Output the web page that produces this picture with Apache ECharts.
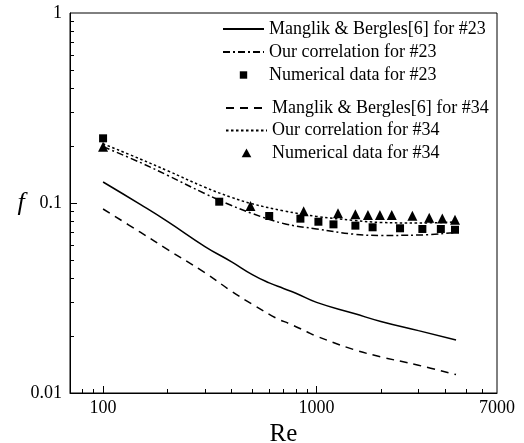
<!DOCTYPE html>
<html><head><meta charset="utf-8">
<script src="https://cdn.jsdelivr.net/npm/echarts@6/dist/echarts.min.js"></script>
<style>html,body{margin:0;padding:0;background:#fff}#c{width:524px;height:443px}</style>
</head><body><div id="c"></div>
<script>
// Manglik & Bergles[6] for #23 (solid)
const reM23 = [100,150,200,300,400,500,600,700,800,1000,1500,2000,3000,4500];
const fM23  = [0.129,0.098,0.080,0.059,0.049,0.042,0.038,0.0355,0.0335,0.030,0.0262,0.0238,0.0213,0.019];
// Our correlation for #23 (dash-dot)
const reC23 = [100,150,200,300,400,500,700,1000,1500,2000,3000,4500];
const fC23  = [0.198,0.163,0.140,0.112,0.097,0.088,0.078,0.073,0.0685,0.0675,0.0678,0.070];
// Numerical data for #23 (squares)
const reN23 = [100,350,600,840,1020,1200,1520,1830,2460,3130,3820,4450];
const fN23  = [0.219,0.1016,0.0854,0.0827,0.0797,0.0772,0.076,0.0745,0.0736,0.073,0.073,0.0723];
// Manglik & Bergles[6] for #34 (dashed)
const reM34 = [100,150,200,300,400,500,650,750,900,1000,1500,2000,3000,4500];
const fM34  = [0.093,0.070,0.057,0.043,0.0343,0.0293,0.0247,0.0231,0.021,0.0199,0.0169,0.0155,0.0140,0.0125];
// Our correlation for #34 (dotted)
const reC34 = [100,150,200,300,400,500,700,1000,1500,2000,3000,4500];
const fC34  = [0.205,0.170,0.148,0.121,0.107,0.099,0.091,0.085,0.081,0.079,0.0785,0.0795];
// Numerical data for #34 (triangles)
const reN34 = [100,490,870,1260,1520,1740,1980,2250,2810,3370,3880,4450];
const fN34  = [0.198,0.0965,0.0905,0.0883,0.0872,0.0865,0.0865,0.0865,0.0858,0.0837,0.0830,0.0817];

const seriesNames = ['Manglik & Bergles[6] for #23','Our correlation for #23','Numerical data for #23',
                     'Manglik & Bergles[6] for #34','Our correlation for #34','Numerical data for #34'];
const xLabelValues = [100,1000,7000];
const xMajorTicks = [100,1000];
const xMinorTicks = [80,90,200,300,400,500,600,700,800,900,2000,3000,4000,5000,6000];
const yLabelValues = [0.01,0.1,1];
const yMajorTicks = [0.1];
const yMinorTicks = [0.02,0.03,0.04,0.05,0.06,0.07,0.08,0.09,0.2,0.3,0.4,0.5,0.6,0.7,0.8,0.9];

const FONT = 'Liberation Serif, Times New Roman, serif';
const zip = (a,b) => a.map((v,i)=>[v,b[i]]);
const chart = echarts.init(document.getElementById('c'), null, {renderer:'canvas'});

const baseX = {type:'log', logBase:10, min:70, max:7000, position:'bottom', splitLine:{show:false}};
const baseY = {type:'log', logBase:10, min:0.01, max:1, position:'left', splitLine:{show:false}};
const legendText = {fontFamily:FONT, fontSize:18, color:'#000', lineHeight:18};
const squareIcon = 'path://M0,0M14,14M3.3,3.3L10.7,3.3L10.7,10.7L3.3,10.7Z';
const triIcon = 'path://M0,0M14,14M7,2.4L11.8,11.2L2.2,11.2Z';
const noSym = {opacity:0};

chart.setOption({
  animation:false,
  backgroundColor:'#fff',
  grid:{left:70,right:27,top:13,bottom:50,show:true,borderColor:'#000',borderWidth:1,
        containLabel:false,outerBoundsMode:'none'},
  xAxis:[
    Object.assign({}, baseX, {
      name:'Re', nameLocation:'middle', nameGap:18,
      nameTextStyle:{fontFamily:FONT,fontSize:25,color:'#000'},
      axisLine:{show:true,lineStyle:{color:'#000',width:1}},
      axisTick:{show:true,inside:true,length:7,customValues:xMajorTicks,lineStyle:{color:'#000',width:1}},
      axisLabel:{show:true,customValues:xLabelValues,margin:6,fontFamily:FONT,fontSize:18,color:'#000',
                 formatter:v=>String(Math.round(v))}
    }),
    Object.assign({}, baseX, {
      axisLine:{show:false},
      axisTick:{show:true,inside:true,length:4,customValues:xMinorTicks,lineStyle:{color:'#000',width:1}},
      axisLabel:{show:false}
    })
  ],
  yAxis:[
    Object.assign({}, baseY, {
      name:'f', nameLocation:'middle', nameGap:40, nameRotate:0,
      nameTextStyle:{fontFamily:FONT,fontSize:26,fontStyle:'italic',color:'#000',padding:[20,0,0,0]},
      axisLine:{show:true,lineStyle:{color:'#000',width:1}},
      axisTick:{show:true,inside:true,length:7,customValues:yMajorTicks,lineStyle:{color:'#000',width:1}},
      axisLabel:{show:true,customValues:yLabelValues,margin:8,fontFamily:FONT,fontSize:18,color:'#000',
                 formatter:v=>String(+(+v).toPrecision(3))}
    }),
    Object.assign({}, baseY, {
      axisLine:{show:false},
      axisTick:{show:true,inside:true,length:4,customValues:yMinorTicks,lineStyle:{color:'#000',width:1}},
      axisLabel:{show:false}
    })
  ],
  legend:[
    {left:217, top:15, orient:'vertical', itemWidth:41, itemHeight:14, itemGap:5, selectedMode:false,
     textStyle:legendText,
     data:[{name:seriesNames[0],itemStyle:noSym},{name:seriesNames[1],itemStyle:noSym},
           {name:seriesNames[2],icon:squareIcon}]},
    {left:220, top:94, orient:'vertical', itemWidth:41, itemHeight:14, itemGap:4.5, selectedMode:false,
     textStyle:legendText,
     data:[{name:seriesNames[3],itemStyle:noSym},{name:seriesNames[4],itemStyle:noSym},
           {name:seriesNames[5],icon:triIcon}]}
  ],
  series:[
    {name:seriesNames[0], type:'line', data:zip(reM23,fM23), symbol:'none', smooth:0.5,
     lineStyle:{color:'#000',width:1.5,type:'solid'}, itemStyle:{color:'#000'}},
    {name:seriesNames[1], type:'line', data:zip(reC23,fC23), symbol:'none', smooth:0.4,
     lineStyle:{color:'#000',width:1.5,type:[7,3,2,3]}, itemStyle:{color:'#000'}},
    {name:seriesNames[2], type:'scatter', data:zip(reN23,fN23), symbol:'rect', symbolSize:8,
     itemStyle:{color:'#000',opacity:1}},
    {name:seriesNames[3], type:'line', data:zip(reM34,fM34), symbol:'none', smooth:0.4,
     lineStyle:{color:'#000',width:1.5,type:[8,6]}, itemStyle:{color:'#000'}},
    {name:seriesNames[4], type:'line', data:zip(reC34,fC34), symbol:'none', smooth:0.4,
     lineStyle:{color:'#000',width:1.5,type:[2.5,2.5]}, itemStyle:{color:'#000'}},
    {name:seriesNames[5], type:'scatter', data:zip(reN34,fN34), symbol:'triangle', symbolSize:10,
     itemStyle:{color:'#000',opacity:1}}
  ]
});
</script>
</body></html>
